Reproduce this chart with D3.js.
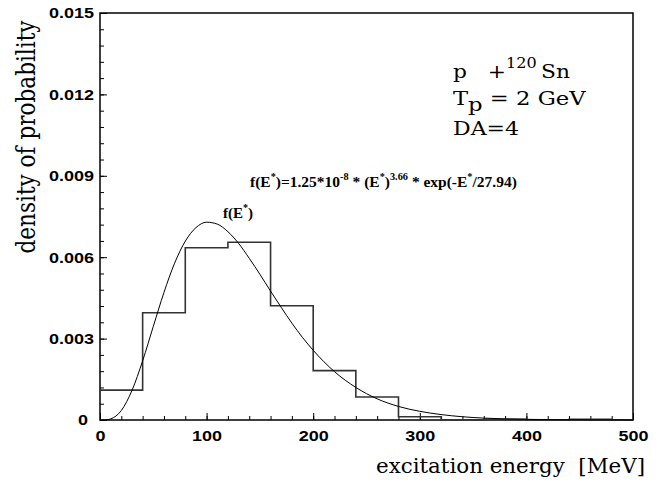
<!DOCTYPE html>
<html lang="en">
<head>
<meta charset="UTF-8">
<title>Excitation energy distribution</title>
<script src="https://d3js.org/d3.v7.min.js"></script>
<style>
  body { margin: 0; background: #fff; }
  .tick text { font-family: "Liberation Sans", Arial, sans-serif; font-weight: bold; font-size: 15px; fill: #000; }
  .serif { font-family: "DejaVu Serif", "Liberation Serif", serif; fill: #000; }
</style>
</head>
<body>
<svg width="667" height="484"></svg>
<script>
// histogram: 40 MeV bins, density of probability
const binEdges = [0, 40, 80, 120, 160, 200, 240, 280, 320, 360, 400, 440, 480, 500];
const binValues = [0.00110, 0.00395, 0.00635, 0.00655, 0.00421, 0.00182, 0.00085, 0.00012, 0.00001, 0.00003, 0, 0.00003, 0];

// fitted curve f(E*)
const curveE = [0, 5, 10, 20, 30, 40, 50, 60, 70, 80, 90, 100, 110, 120, 130, 140, 150, 160, 170, 180, 190, 200, 220, 240, 260, 280, 300, 320, 340, 360, 400, 450, 500];
const curveF = [0, 0.000004, 0.00004, 0.00035, 0.00109, 0.00218, 0.00345, 0.00470, 0.00578, 0.00659, 0.00709, 0.00729, 0.00722, 0.00694, 0.00651, 0.00596, 0.00537, 0.00475, 0.00415, 0.00357, 0.00304, 0.00257, 0.00178, 0.00120, 0.00078, 0.00050, 0.00032, 0.00020, 0.00012, 0.00007, 0.000025, 0.0000065, 0.0000016];

const xTicks = [0, 100, 200, 300, 400, 500];
const yTicks = [0, 0.003, 0.006, 0.009, 0.012, 0.015];

const svg = d3.select("svg");
const margin = {left: 100, right: 34, top: 13, bottom: 64};
const W = 667, H = 484;

const x = d3.scaleLinear().domain([0, 500]).range([margin.left, W - margin.right]);
const y = d3.scaleLinear().domain([0, 0.015]).range([H - margin.bottom, margin.top]);

// stretch a left-anchored text horizontally so it spans `target` px
function fitWidth(node, target) {
    const bb = node.getBBox();
    const k = target / bb.width;
    d3.select(node).attr("transform", `translate(${bb.x},0) scale(${k},1) translate(${-bb.x},0)`);
}

// minor ticks
svg.append("g")
    .attr("transform", `translate(0,${y(0)})`)
    .call(d3.axisBottom(x).tickValues(d3.range(0, 501, 20)).tickSize(-4).tickFormat(""))
    .call(g => g.select(".domain").remove())
    .selectAll("line").attr("stroke", "#000");
svg.append("g")
    .attr("transform", `translate(${x(0)},0)`)
    .call(d3.axisLeft(y).tickValues(d3.range(0, 0.01501, 0.0006)).tickSize(-4).tickFormat(""))
    .call(g => g.select(".domain").remove())
    .selectAll("line").attr("stroke", "#000");

// major ticks + labels
svg.append("g")
    .attr("transform", `translate(0,${y(0)})`)
    .call(d3.axisBottom(x).tickValues(xTicks).tickSize(-7).tickPadding(10).tickFormat(d3.format("d")))
    .call(g => g.select(".domain").remove())
    .call(g => g.selectAll("text").attr("transform", "scale(1.2,1)"))
    .selectAll("line").attr("stroke", "#000");
svg.append("g")
    .attr("transform", `translate(${x(0)},0)`)
    .call(d3.axisLeft(y).tickValues(yTicks).tickSize(-7).tickPadding(5)
        .tickFormat(d => d === 0 ? "0" : d3.format(".3f")(d)))
    .call(g => g.select(".domain").remove())
    .call(g => g.selectAll(".tick").filter(d => d === 0).select("text").attr("x", -10))
    .call(g => g.selectAll("text").attr("transform", "scale(1.2,1)"))
    .selectAll("line").attr("stroke", "#000");

// frame
svg.append("rect")
    .attr("x", x(0)).attr("y", y(0.015))
    .attr("width", x(500) - x(0)).attr("height", y(0) - y(0.015))
    .attr("fill", "none").attr("stroke", "#000").attr("stroke-width", 1.5);

// histogram as a step line
const steps = [[binEdges[0], binValues[0]]];
binValues.forEach((v, i) => {
    steps.push([binEdges[i], v]);
    steps.push([binEdges[i + 1], v]);
});
svg.append("path")
    .datum(steps)
    .attr("fill", "none")
    .attr("stroke", "#333")
    .attr("stroke-width", 1.6)
    .attr("d", d3.line().x(d => x(d[0])).y(d => y(d[1])));

// fit curve
svg.append("path")
    .datum(curveE.map((e, i) => [e, curveF[i]]))
    .attr("fill", "none")
    .attr("stroke", "#000")
    .attr("stroke-width", 1)
    .attr("d", d3.line().x(d => x(d[0])).y(d => y(d[1])).curve(d3.curveMonotoneX));

// axis titles
svg.append("text").attr("class", "serif")
    .attr("x", 376).attr("y", 473)
    .style("font-size", "21px")
    .attr("textLength", 269).attr("lengthAdjust", "spacingAndGlyphs")
    .text("excitation energy\u00a0\u00a0[MeV]");
svg.append("text").attr("class", "serif")
    .attr("transform", "translate(35,137) rotate(-90) scale(1,1.3)")
    .attr("text-anchor", "middle")
    .style("font-size", "20px")
    .attr("textLength", 233).attr("lengthAdjust", "spacingAndGlyphs")
    .text("density of probability");

// reaction info
const info = svg.append("g").attr("class", "serif").style("font-size", "19px");
const t1 = info.append("text").attr("x", 453).attr("y", 78);
t1.append("tspan").text("p\u00a0\u00a0\u00a0+");
t1.append("tspan").attr("dy", -10).style("font-size", "14px").text("120");
t1.append("tspan").attr("dy", 10).text("\u2009Sn");
const t2 = info.append("text").attr("x", 453).attr("y", 105);
t2.append("tspan").text("T");
t2.append("tspan").attr("dy", 6).text("p");
t2.append("tspan").attr("dy", -6).text(" = 2 GeV");
const t3 = info.append("text").attr("x", 453).attr("y", 135).text("DA=4");
fitWidth(t1.node(), 117);
fitWidth(t2.node(), 133);
fitWidth(t3.node(), 66);

// formula
const fs = svg.append("g")
    .style("font-family", "'Liberation Serif', 'Times New Roman', serif")
    .style("font-weight", "bold").style("font-size", "15px");
const f1 = fs.append("text").attr("x", 250).attr("y", 187);
f1.append("tspan").text("f(E");
f1.append("tspan").attr("dy", -7).style("font-size", "10px").text("*");
f1.append("tspan").attr("dy", 7).text(")=1.25*10");
f1.append("tspan").attr("dy", -7).style("font-size", "10px").text("-8");
f1.append("tspan").attr("dy", 7).text(" * (E");
f1.append("tspan").attr("dy", -7).style("font-size", "10px").text("*");
f1.append("tspan").attr("dy", 7).text(")");
f1.append("tspan").attr("dy", -7).style("font-size", "10px").text("3.66");
f1.append("tspan").attr("dy", 7).text(" * exp(-E");
f1.append("tspan").attr("dy", -7).style("font-size", "10px").text("*");
f1.append("tspan").attr("dy", 7).text("/27.94)");
fitWidth(f1.node(), 267);

const f2 = fs.append("text").attr("x", 223).attr("y", 218);
f2.append("tspan").text("f(E");
f2.append("tspan").attr("dy", -7).style("font-size", "10px").text("*");
f2.append("tspan").attr("dy", 7).text(")");
fitWidth(f2.node(), 30);
</script>
</body>
</html>
